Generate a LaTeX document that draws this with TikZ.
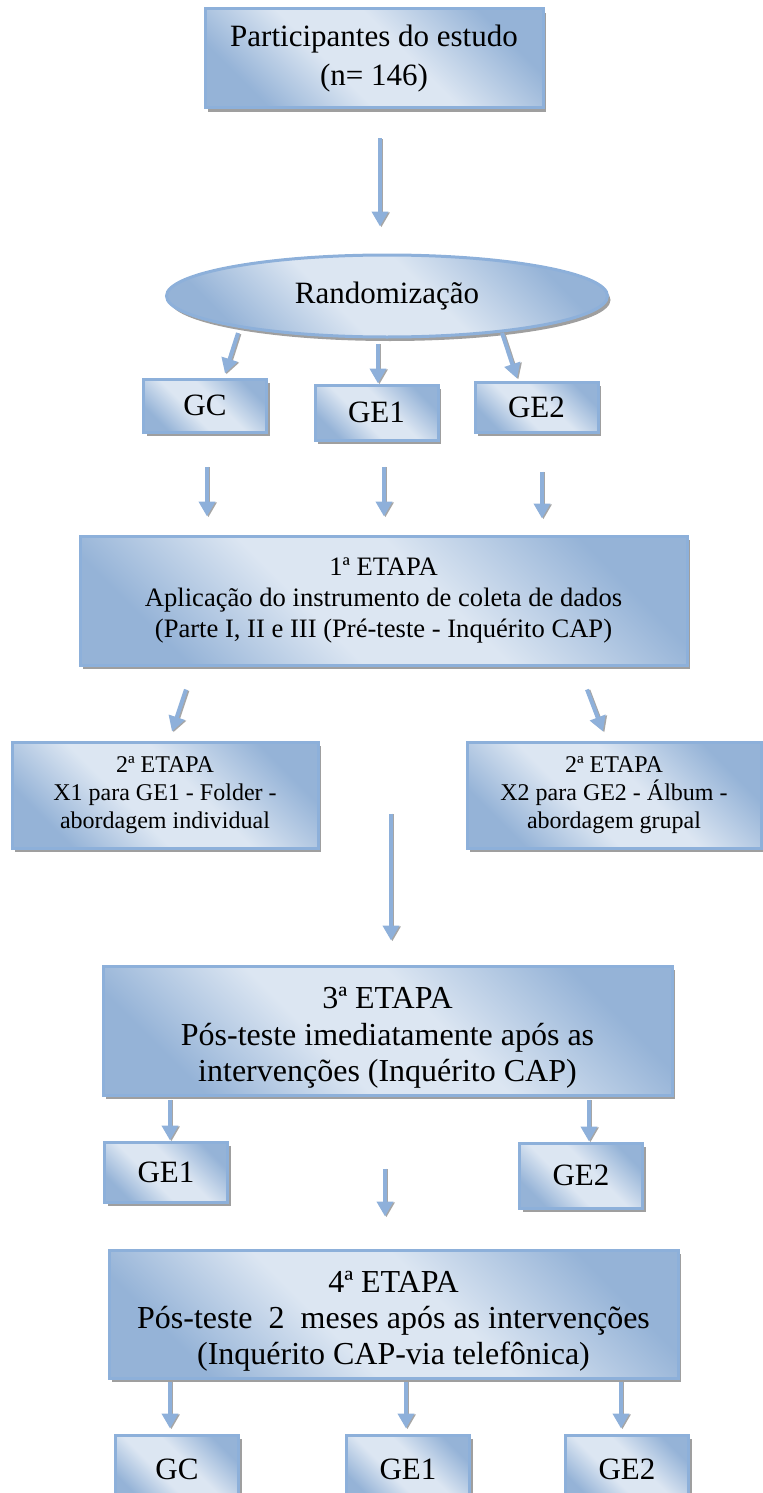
\documentclass[tikz,border=0pt]{standalone}
\usepackage{fontspec}
\setmainfont{Liberation Serif}
\usepackage{tikz}
\usetikzlibrary{shapes.geometric,arrows.meta,positioning,calc,shadows}

\definecolor{boxlight}{HTML}{DCE6F2}
\definecolor{boxdark}{HTML}{95B3D7}
\definecolor{boxline}{HTML}{8DB0DA}
\definecolor{arrowblue}{HTML}{8EB0DA}

\pgfdeclareverticalshading{boxshade}{100bp}{color(0bp)=(boxdark); color(25bp)=(boxdark);
  color(42bp)=(boxlight); color(56bp)=(boxlight); color(75bp)=(boxdark); color(100bp)=(boxdark)}

\tikzset{
  etapa/.style={draw=boxline, line width=1.5pt, shading=boxshade, shading angle=-45,
    align=center, inner sep=0pt,
    drop shadow={shadow xshift=1.5pt, shadow yshift=-2pt, fill=gray!75, opacity=1}},
  grupo/.style={etapa, font=\fontsize{15.5pt}{19.5pt}\selectfont, minimum width=61.5pt, minimum height=26.5pt},
  arr/.style={draw=arrowblue, line width=2pt, -{Triangle[width=8pt,length=7.5pt]},
    preaction={draw=gray!70, line width=2pt, -{Triangle[width=8pt,length=7.5pt]},
      transform canvas={xshift=0.7pt, yshift=-0.4pt}}}
}

\begin{document}
\begin{tikzpicture}[x=0.5pt, y=-0.5pt]
\useasboundingbox (0,0) rectangle (762,1493);

% boxes
\node[etapa, font=\fontsize{15.5pt}{19.5pt}\selectfont, minimum width=169pt, minimum height=49.5pt] (part) at (374,58.5) {Participantes do estudo\\(n= 146)};
\node[etapa, ellipse, font=\fontsize{15.5pt}{19.5pt}\selectfont, minimum width=220.5pt, minimum height=41pt] (rand) at (387,296) {Randomização};
\node[grupo] (gc1) at (205,405.5) {GC};
\node[grupo, minimum height=27.5pt] (ge1a) at (376.5,412.5) {GE1};
\node[grupo, minimum height=25pt] (ge2a) at (536.5,407) {GE2};
\node[etapa, font=\fontsize{13.3pt}{15.5pt}\selectfont, minimum width=303.5pt, minimum height=64.5pt] (etapa1) at (383.5,600.5) {1ª ETAPA\\Aplicação do instrumento de coleta de dados\\(Parte I, II e III (Pré-teste - Inquérito CAP)};
\node[etapa, font=\fontsize{12pt}{14pt}\selectfont, minimum width=153pt, minimum height=53pt] (etapa2a) at (165,795) {2ª ETAPA\\X1 para GE1 - Folder -\\abordagem individual};
\node[etapa, font=\fontsize{12pt}{14pt}\selectfont, minimum width=147pt, minimum height=53pt] (etapa2b) at (614,795) {2ª ETAPA\\X2 para GE2 - Álbum -\\abordagem grupal};
\node[etapa, font=\fontsize{16pt}{18.25pt}\selectfont, minimum width=284.5pt, minimum height=64.5pt] (etapa3) at (387.5,1030.5) {\rule{0pt}{18pt}3ª ETAPA\\Pós-teste imediatamente após as\\intervenções (Inquérito CAP)};
\node[grupo, minimum height=30pt] (ge1b) at (166,1172) {GE1};
\node[grupo, minimum height=32.5pt] (ge2b) at (581,1175.5) {GE2};
\node[etapa, font=\fontsize{16pt}{18pt}\selectfont, minimum width=284.5pt, minimum height=64pt] (etapa4) at (393.5,1314) {\rule{0pt}{18pt}4ª ETAPA\\Pós-teste\ \ 2\ \ meses após as intervenções\\(Inquérito CAP-via telefônica)};
\node[grupo, minimum height=34pt] (gc2) at (177,1469) {GC};
\node[grupo, minimum height=34pt] (ge1c) at (408,1469) {GE1};
\node[grupo, minimum height=34pt] (ge2c) at (627,1469) {GE2};

% arrows
\draw[arr] ($(part.south)+(6,29)$) -- ($(rand.north)+(-7,-27)$);
\draw[arr] ($(rand.center)+(-149,37)$) -- ($(gc1.north)+(20,-4)$);
\draw[arr] ($(rand.south)+(-9,5)$) -- ($(ge1a.north)+(1.5,0)$);
\draw[arr] ($(rand.center)+(115,37)$) -- ($(ge2a.north)+(-19.5,-2)$);
\draw[arr] ($(gc1.south)+(2,33)$) -- ($(gc1.south |- etapa1.north)+(2,-18)$);
\draw[arr] ($(ge1a.south)+(7.5,25)$) -- ($(ge1a.south |- etapa1.north)+(7.5,-18)$);
\draw[arr] ($(ge2a.south)+(5.5,38)$) -- ($(ge2a.south |- etapa1.north)+(5.5,-16)$);
\draw[arr] ($(etapa1.south)+(-197.5,23)$) -- ($(etapa2a.north)+(7,-9)$);
\draw[arr] ($(etapa1.south)+(203.5,23)$) -- ($(etapa2b.north)+(-11,-9)$);
\draw[arr] ($(etapa1.south)+(7.5,147)$) -- ($(etapa3.north)+(3.5,-24)$);
\draw[arr] ($(ge1b.north |- etapa3.south)+(4,3)$) -- ($(ge1b.north)+(4,0)$);
\draw[arr] ($(ge2b.north |- etapa3.south)+(8,3)$) -- ($(ge2b.north)+(8,0)$);
\draw[arr] ($(etapa3.south)+(-2.5,72)$) -- ($(etapa4.north)+(-8.5,-32)$);
\foreach \g/\dx in {gc2/-7, ge1c/-2, ge2c/-6}
  \draw[arr] ($(\g.north |- etapa4.south)+(\dx,2)$) -- ($(\g.north)+(\dx,-5)$);

\end{tikzpicture}
\end{document}
